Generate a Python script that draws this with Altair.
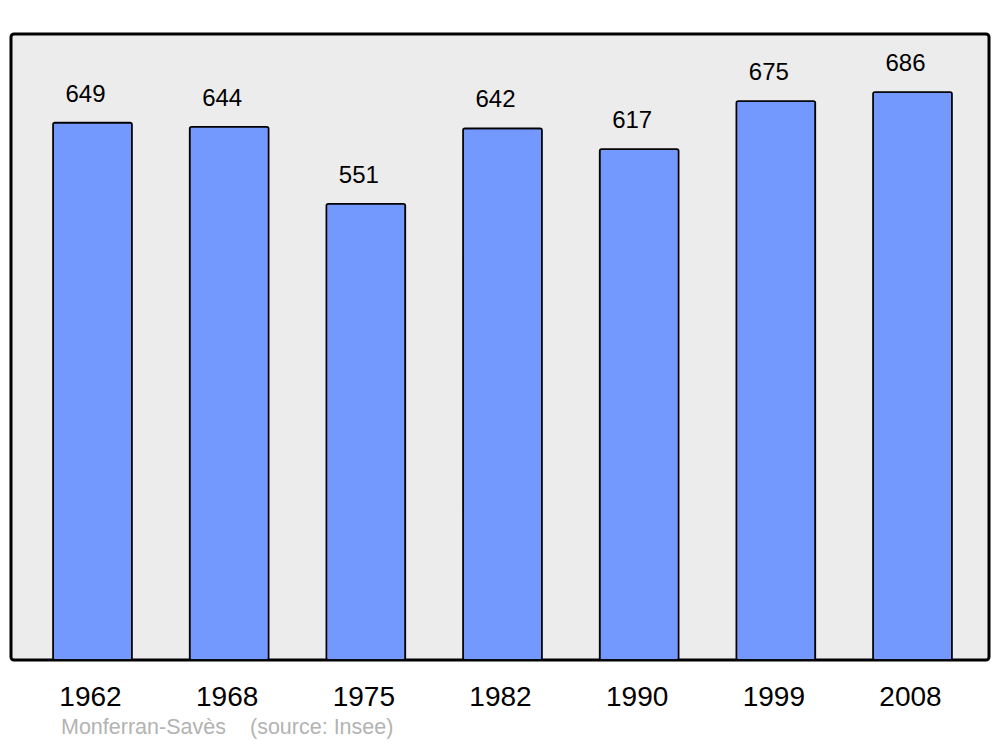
import altair as alt
import pandas as pd

years = ["1962", "1968", "1975", "1982", "1990", "1999", "2008"]
population = [649, 644, 551, 642, 617, 675, 686]
source_parts = ["Monferran-Savès", "(source: Insee)"]
source_x = [50, 239]

df = pd.DataFrame({"year": years, "pop": population})

FONT = "Liberation Sans"

x = alt.X(
    "year:N",
    sort=years,
    scale=alt.Scale(range=[42, 941], paddingInner=0.422, paddingOuter=0),
    axis=alt.Axis(
        title=None, domain=False, ticks=False, tickSize=0, labelAngle=0,
        labelFontSize=28, labelFont=FONT, labelColor="#000000", labelPadding=23,
        labelOffset=-2, grid=False,
    ),
)
y = alt.Y("pop:Q", scale=alt.Scale(domain=[0, 756], nice=False, zero=True), axis=None)

bars = alt.Chart(df).mark_bar(
    color="#7399ff", stroke="#000000", strokeWidth=1.6, cornerRadius=2
).encode(x=x, y=y)

labels = alt.Chart(df).mark_text(
    fontSize=24, font=FONT, color="#000000", baseline="alphabetic", dy=-21, dx=-7
).encode(x=x, y=y, text="pop:Q")

src_layers = [
    alt.Chart(pd.DataFrame({"t": [t]})).mark_text(
        fontSize=21.5, font=FONT, color="#b3b3b3", align="left", baseline="alphabetic"
    ).encode(x=alt.value(px), y=alt.value(700), text="t:N")
    for t, px in zip(source_parts, source_x)
]

chart = alt.layer(bars, labels, *src_layers).properties(
    width=978, height=626,
    autosize=alt.AutoSizeParams(type="none"),
    padding={"left": 3, "top": 26, "right": 3, "bottom": 79},
    background="#ffffff",
).configure_view(
    fill="#ececec", stroke="#000000", strokeWidth=3, cornerRadius=3
)

chart.save("out.html", embed_options={"renderer": "svg", "actions": False})
